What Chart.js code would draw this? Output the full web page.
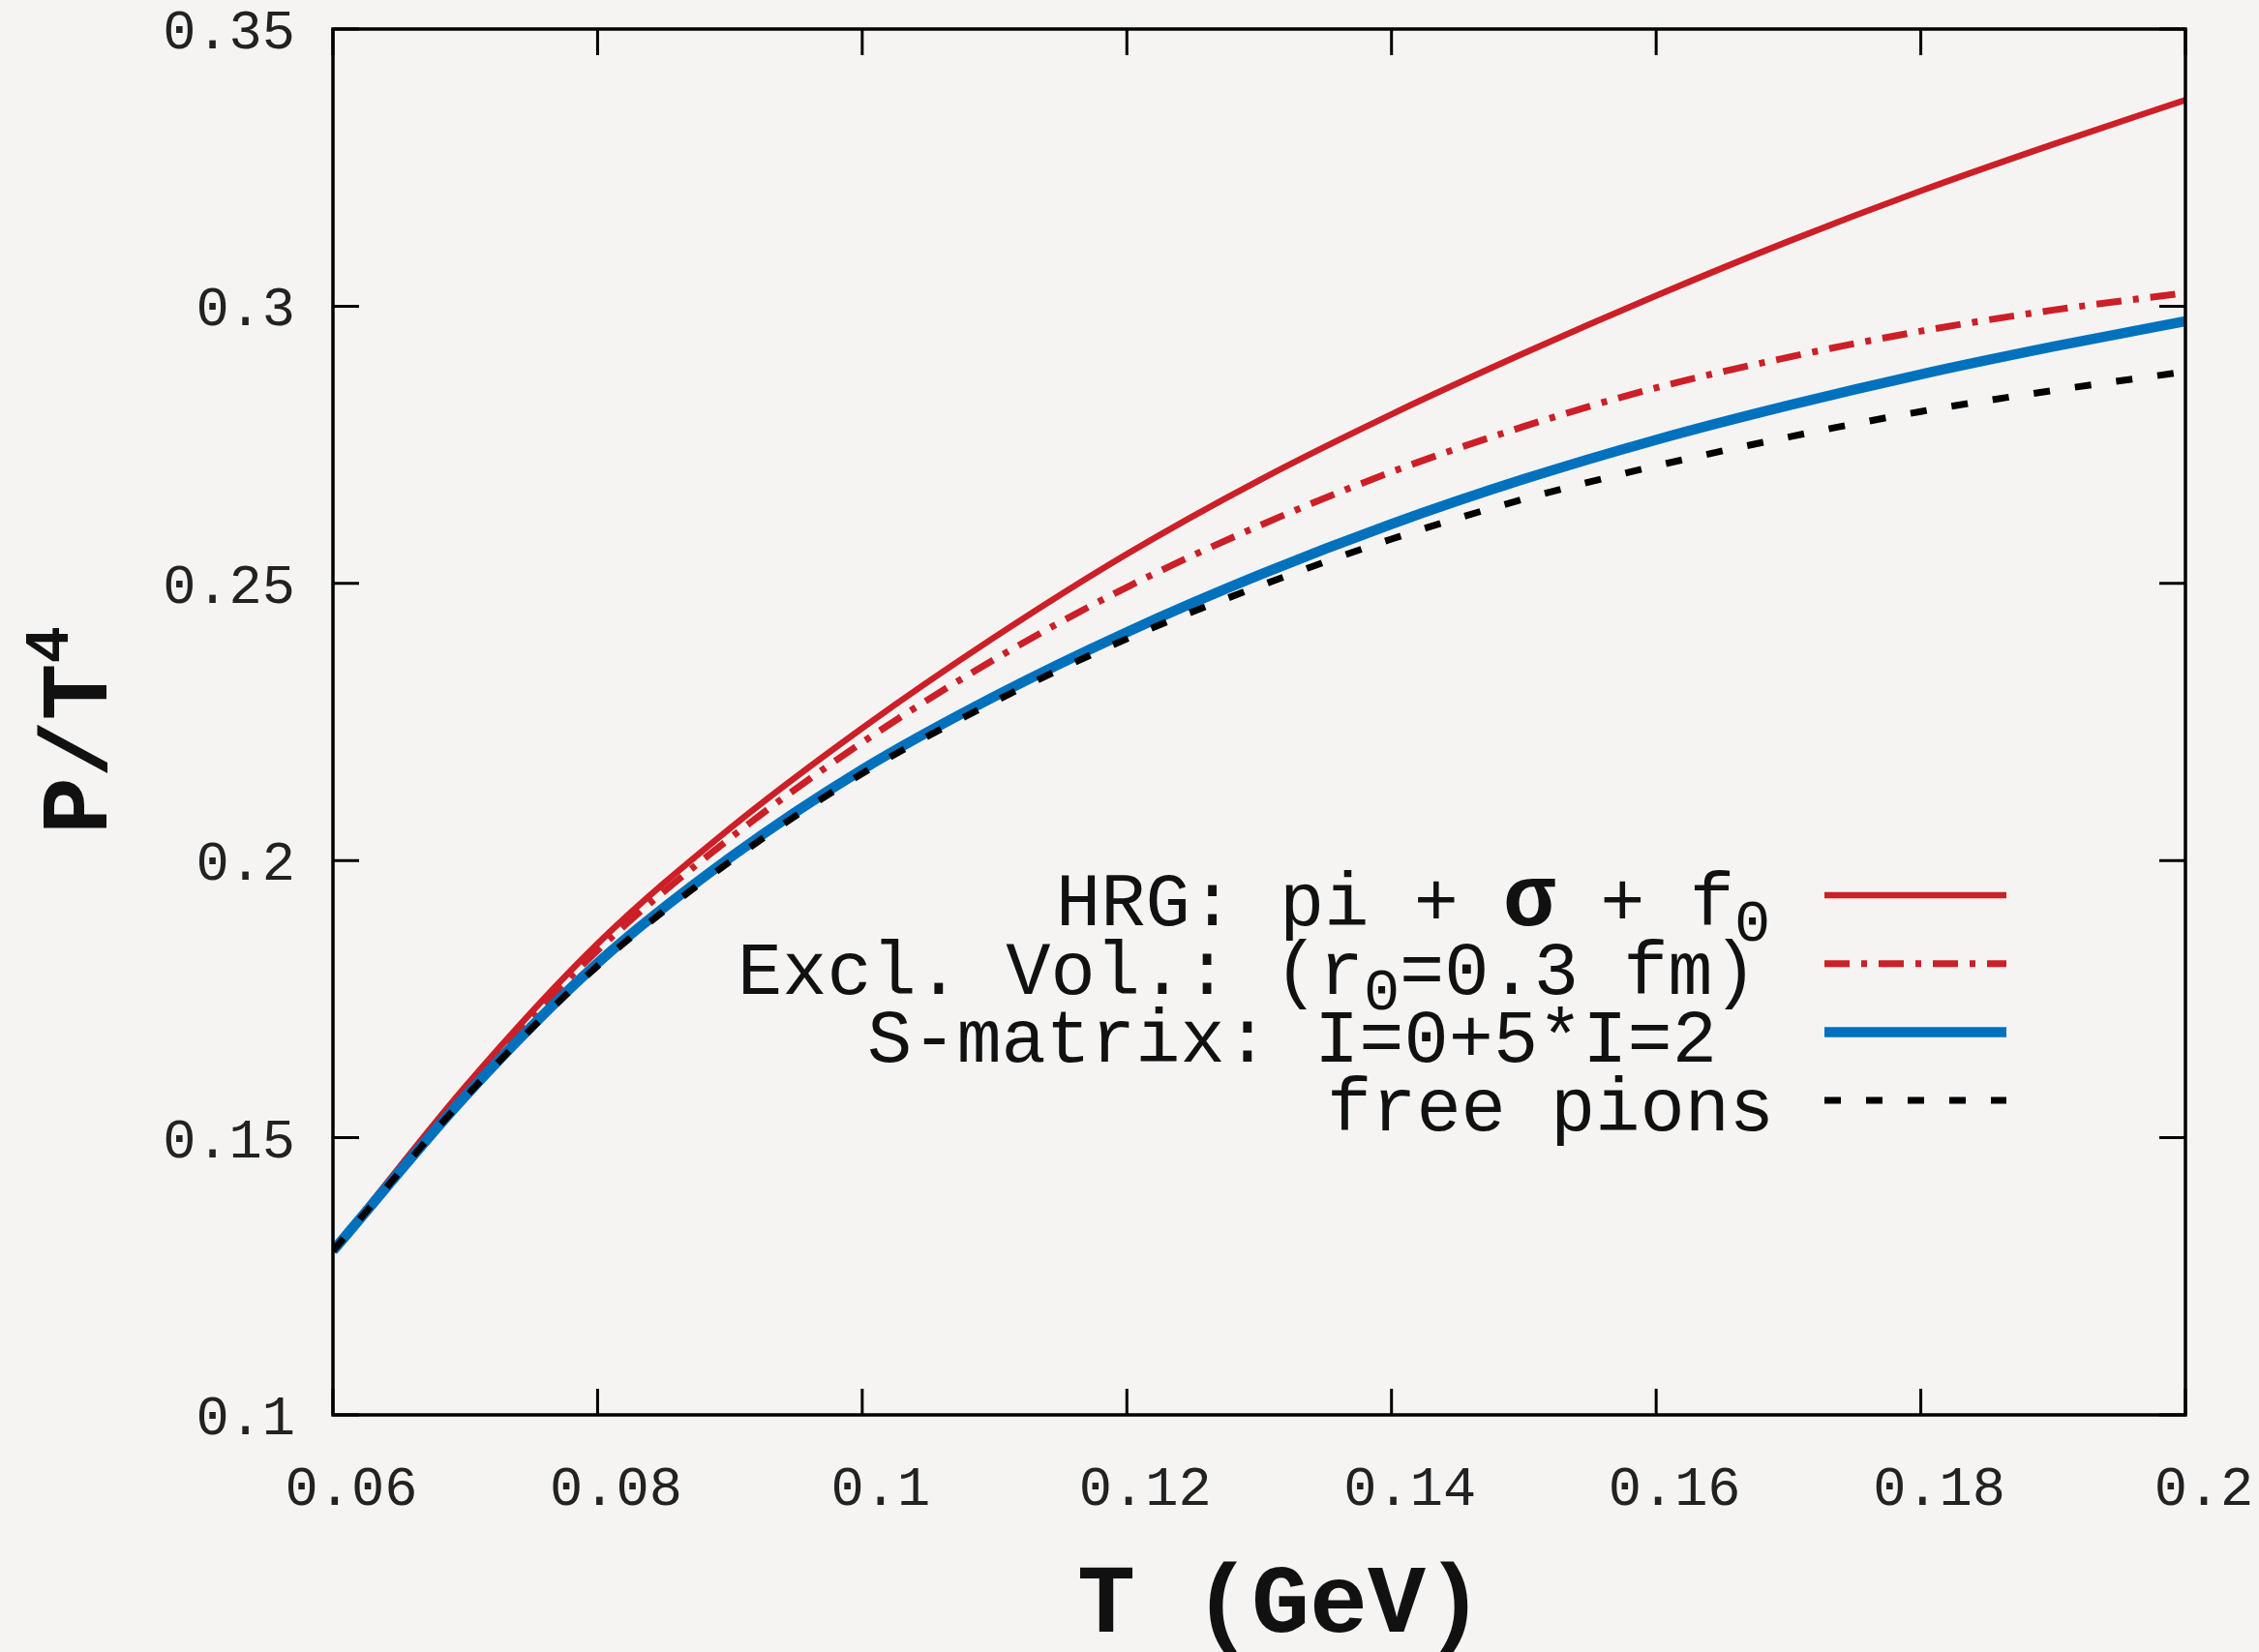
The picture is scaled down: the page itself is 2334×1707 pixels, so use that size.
<!DOCTYPE html>
<html>
<head>
<meta charset="utf-8">
<title>P/T^4 vs T</title>
<script src="https://cdn.jsdelivr.net/npm/chart.js@4.4.1/dist/chart.umd.min.js"></script>
<style>
  html, body { margin: 0; padding: 0; background: #f5f4f2; }
  #wrap { width: 2334px; height: 1707px; }
  canvas { display: block; }
</style>
</head>
<body>
<div id="wrap"><canvas id="myChart" width="2334" height="1707"></canvas></div>
<script>
// temperature (GeV)
const temps = [0.06, 0.07, 0.08, 0.09, 0.10, 0.11, 0.12, 0.13, 0.14, 0.15, 0.16, 0.17, 0.18, 0.19, 0.20];

// P/T^4
const hrg       = [0.1296, 0.1592, 0.1850, 0.2058, 0.2239, 0.2403, 0.2553, 0.2686, 0.2805, 0.2915, 0.3019, 0.3117, 0.3208, 0.3292, 0.3372];
const exclVol   = [0.1296, 0.1586, 0.1838, 0.2040, 0.2213, 0.2363, 0.2493, 0.2604, 0.2701, 0.2783, 0.2853, 0.2908, 0.2955, 0.2993, 0.3024];
const sMatrix   = [0.1296, 0.1575, 0.1815, 0.2005, 0.2164, 0.2296, 0.2412, 0.2515, 0.2607, 0.2688, 0.2759, 0.2821, 0.2877, 0.2927, 0.2973];
const freePions = [0.1296, 0.1573, 0.1810, 0.1998, 0.2157, 0.2287, 0.2400, 0.2495, 0.2580, 0.2652, 0.2712, 0.2764, 0.2810, 0.2848, 0.2882];

const xTicks = [0.06, 0.08, 0.10, 0.12, 0.14, 0.16, 0.18, 0.20];
const yTicks = [0.10, 0.15, 0.20, 0.25, 0.30, 0.35];

const BG = '#f5f4f2';
const RED = '#cc1f27';
const BLUE = '#0071bc';
const TICK_LEN = 27;

const pts = arr => arr.map((v, i) => ({ x: temps[i], y: v }));

// legend rows: text pieces, sub = subscript
const legendRows = [
  { ds: 0, x: 1091, parts: [{ t: 'HRG: pi + ' }, { t: 'σ', sigma: true }, { t: ' + f' }, { t: '0', sub: true }] },
  { ds: 1, x: 762,  parts: [{ t: 'Excl. Vol.: (r' }, { t: '0', sub: true }, { t: '=0.3 fm)' }] },
  { ds: 2, x: 896,  parts: [{ t: 'S-matrix: I=0+5*I=2' }] },
  { ds: 3, x: 1371, parts: [{ t: 'free pions' }] }
];

const bgPlugin = {
  id: 'bg',
  beforeDraw(chart) {
    const c = chart.ctx;
    c.save();
    c.fillStyle = BG;
    c.fillRect(0, 0, chart.width, chart.height);
    c.restore();
  }
};

// box border + inward mirrored ticks
const framePlugin = {
  id: 'frame',
  afterDatasetsDraw(chart) {
    const { ctx, chartArea: a, scales: { x, y } } = chart;
    ctx.save();
    ctx.strokeStyle = '#000';
    ctx.lineWidth = 3;
    ctx.beginPath();
    x.ticks.forEach(t => {
      const px = x.getPixelForValue(t.value);
      ctx.moveTo(px, a.bottom); ctx.lineTo(px, a.bottom - TICK_LEN);
      ctx.moveTo(px, a.top); ctx.lineTo(px, a.top + TICK_LEN);
    });
    y.ticks.forEach(t => {
      const py = y.getPixelForValue(t.value);
      ctx.moveTo(a.left, py); ctx.lineTo(a.left + TICK_LEN, py);
      ctx.moveTo(a.right, py); ctx.lineTo(a.right - TICK_LEN, py);
    });
    ctx.stroke();
    ctx.lineWidth = 3.5;
    ctx.strokeRect(a.left, a.top, a.right - a.left, a.bottom - a.top);
    ctx.restore();
  }
};

const textPlugin = {
  id: 'texts',
  afterDraw(chart) {
    const ctx = chart.ctx;
    const ds = chart.data.datasets;
    ctx.save();
    ctx.fillStyle = '#111';
    ctx.textBaseline = 'alphabetic';
    ctx.textAlign = 'left';

    // legend
    const main = '77px "Liberation Mono"';
    const sub = '62px "Liberation Mono"';
    const sig = 'bold 90px "Liberation Mono"';
    legendRows.forEach((row, i) => {
      const lineY = 925 + i * 70.7;
      const base = lineY + 31;
      let cx = row.x;
      row.parts.forEach(p => {
        ctx.font = p.sub ? sub : (p.sigma ? sig : main);
        ctx.fillText(p.t, cx, p.sub ? base + 16 : base);
        cx += ctx.measureText(p.t).width;
      });
      const d = ds[row.ds];
      ctx.save();
      ctx.strokeStyle = d.borderColor;
      ctx.lineWidth = d.borderWidth;
      ctx.setLineDash(d.borderDash || []);
      ctx.beginPath();
      ctx.moveTo(1885, lineY);
      ctx.lineTo(2073, lineY);
      ctx.stroke();
      ctx.restore();
    });

    // x title
    ctx.font = 'bold 100px "Liberation Mono"';
    ctx.fillText('T (GeV)', 1113, 1686);

    // y title, rotated
    ctx.save();
    ctx.translate(110, 745);
    ctx.rotate(-Math.PI / 2);
    ctx.font = 'bold 98px "Liberation Mono"';
    ctx.fillText('P/T', -117, 0);
    const w = ctx.measureText('P/T').width;
    ctx.font = 'bold 64px "Liberation Mono"';
    ctx.fillText('4', -117 + w, -40);
    ctx.restore();

    ctx.restore();
  }
};

// keep tick labels from pushing the plot box around
const noPad = s => {
  s.paddingTop = 0; s.paddingBottom = 0; s.paddingLeft = 0; s.paddingRight = 0;
};

const tickFont = { family: '"Liberation Mono"', size: 57 };

new Chart(document.getElementById('myChart').getContext('2d'), {
  type: 'line',
  data: {
    datasets: [
      { label: 'HRG', data: pts(hrg), borderColor: RED, borderWidth: 6.5, order: 4 },
      { label: 'Excl. Vol.', data: pts(exclVol), borderColor: RED, borderWidth: 7, borderDash: [26, 12, 6, 12], order: 3 },
      { label: 'S-matrix', data: pts(sMatrix), borderColor: BLUE, borderWidth: 10.5, order: 2 },
      { label: 'free pions', data: pts(freePions), borderColor: '#000', borderWidth: 7, borderDash: [17, 26], order: 1 }
    ]
  },
  options: {
    responsive: false,
    devicePixelRatio: 1,
    animation: false,
    layout: { padding: { top: 30, right: 76, left: 0, bottom: 0 } },
    elements: {
      point: { radius: 0 },
      line: { cubicInterpolationMode: 'monotone', fill: false, borderCapStyle: 'butt' }
    },
    plugins: {
      legend: { display: false },
      tooltip: { enabled: false }
    },
    scales: {
      x: {
        type: 'linear',
        min: 0.06,
        max: 0.2,
        grid: { display: false },
        border: { display: false },
        afterBuildTicks: s => { s.ticks = xTicks.map(v => ({ value: v })); },
        afterFit: s => { s.height = 245; noPad(s); },
        ticks: {
          font: tickFont,
          color: '#222',
          padding: 36,
          labelOffset: 19,
          maxRotation: 0,
          autoSkip: false,
          callback: v => String(+(+v).toFixed(3))
        }
      },
      y: {
        type: 'linear',
        min: 0.1,
        max: 0.35,
        grid: { display: false },
        border: { display: false },
        afterBuildTicks: s => { s.ticks = yTicks.map(v => ({ value: v })); },
        afterFit: s => { s.width = 344; noPad(s); },
        ticks: {
          font: tickFont,
          color: '#222',
          padding: 31,
          labelOffset: 5,
          autoSkip: false,
          callback: v => String(+(+v).toFixed(3))
        }
      }
    }
  },
  plugins: [bgPlugin, framePlugin, textPlugin]
});
</script>
</body>
</html>
